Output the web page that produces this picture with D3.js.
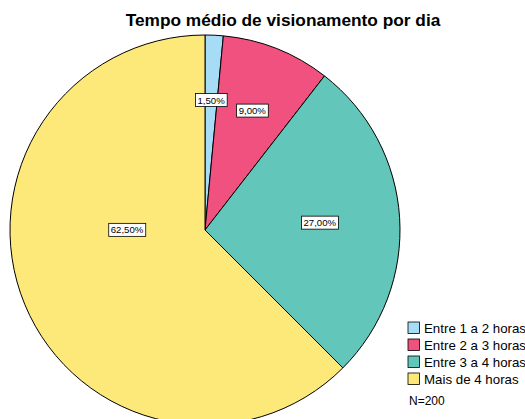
<!DOCTYPE html>
<html>
<head>
<meta charset="utf-8">
<script src="https://cdn.jsdelivr.net/npm/d3@7"></script>
<style>
  body { margin: 0; background: #fff; }
  svg { display: block; font-family: Arial, "Liberation Sans", sans-serif; }
</style>
</head>
<body>
<svg id="chart"></svg>
<script>
var categories = ["Entre 1 a 2 horas", "Entre 2 a 3 horas", "Entre 3 a 4 horas", "Mais de 4 horas"];
var percents = [1.5, 9.0, 27.0, 62.5];
var colors = ["#a7dcf7", "#f0517f", "#62c6ba", "#fde97a"];
var totalN = 200;

(function () {
    var WIDTH = 525, HEIGHT = 419;
    var CX = 205, CY = 230, R = 195;

    var svg = d3.select("#chart").attr("width", WIDTH).attr("height", HEIGHT);

    svg.append("text")
        .attr("x", 283).attr("y", 26)
        .attr("text-anchor", "middle")
        .style("font-size", "17.3px").style("font-weight", "bold")
        .text("Tempo médio de visionamento por dia");

    var data = categories.map(function (c, i) { return {name: c, value: percents[i], color: colors[i]}; });
    var pie = d3.pie().sort(null).value(function (d) { return d.value; });
    var arcs = pie(data);
    var arc = d3.arc().innerRadius(0).outerRadius(R);

    var g = svg.append("g").attr("transform", "translate(" + CX + "," + CY + ")");

    g.selectAll("path.slice").data(arcs).enter().append("path")
        .attr("class", "slice")
        .attr("d", arc)
        .attr("fill", function (d) { return d.data.color; })
        .attr("stroke", "#000").attr("stroke-width", 1);

    // labels sit near the centroid of each sector; the big one is pulled toward the horizontal
    var fmt = function (v) { return v.toFixed(2).replace(".", ",") + "%"; };
    var labels = g.selectAll("g.lbl").data(arcs).enter().append("g").attr("class", "lbl")
        .attr("transform", function (d) {
            var half = (d.endAngle - d.startAngle) / 2;
            var mid = (d.startAngle + d.endAngle) / 2;
            var dist = Math.min(2 * R * Math.sin(half) / (3 * half), R * 0.67);
            if (half > Math.PI / 2) { dist = R * 0.4; mid = Math.round(mid / (Math.PI / 2)) * (Math.PI / 2); }
            return "translate(" + (Math.sin(mid) * dist) + "," + (-Math.cos(mid) * dist) + ")";
        });
    labels.append("text")
        .attr("text-anchor", "middle").attr("dy", "0.35em")
        .style("font-size", "9.6px")
        .text(function (d) { return fmt(d.data.value); })
        .each(function () {
            var b = this.getBBox();
            d3.select(this.parentNode).insert("rect", "text")
                .attr("x", b.x - 2).attr("y", b.y - 1)
                .attr("width", b.width + 4).attr("height", b.height + 2)
                .attr("fill", "#fff").attr("stroke", "#000").attr("stroke-width", 0.8);
        });

    var legend = svg.append("g").attr("transform", "translate(408,322)");
    var rows = legend.selectAll("g").data(data).enter().append("g")
        .attr("transform", function (d, i) { return "translate(0," + (i * 17) + ")"; });
    rows.append("rect")
        .attr("width", 11.5).attr("height", 11.5)
        .attr("fill", function (d) { return d.color; })
        .attr("stroke", "#000").attr("stroke-width", 0.8);
    rows.append("text")
        .attr("x", 16).attr("y", 11)
        .style("font-size", "13.3px")
        .text(function (d) { return d.name; });

    svg.append("text")
        .attr("x", 409).attr("y", 405)
        .style("font-size", "12px")
        .text("N=" + totalN);
}());
</script>
</body>
</html>
